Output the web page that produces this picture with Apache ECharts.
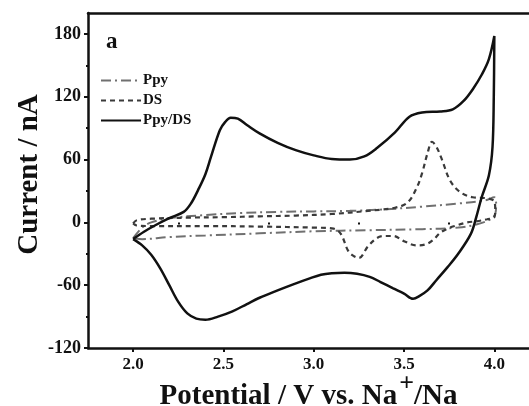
<!DOCTYPE html>
<html>
<head>
<meta charset="utf-8">
<script src="https://cdn.jsdelivr.net/npm/echarts@6/dist/echarts.min.js"></script>
<style>
  html, body { margin: 0; padding: 0; background: #fff; }
  #chart { width: 529px; height: 406px; }
</style>
</head>
<body>
<div id="chart"></div>
<script>
// Cyclic voltammograms: [potential (V vs. Na+/Na), current (nA)], traced around each loop
const ppyLoop = [
  [2.0,-15],[2.05,-5],[2.1,0],[2.2,4],[2.4,7],[2.6,9],[2.8,10],[3.0,10.5],[3.2,11],
  [3.4,12.5],[3.6,15],[3.8,18],[3.95,21],[4.0,24],[4.01,17],[4.005,8],[3.98,3],
  [3.9,-2],[3.8,-5],[3.6,-6.5],[3.3,-7.5],[3.0,-8.5],[2.7,-10.5],[2.4,-12.5],
  [2.2,-14],[2.05,-16],[2.0,-15]
];
const dsLoop = [
  [2.0,-1],[2.02,2],[2.1,3.5],[2.3,4.5],[2.5,5],[2.7,5.8],[2.9,6.5],[3.1,8],[3.3,11],
  [3.45,14],[3.52,19],[3.57,33],[3.6,47],[3.63,66],[3.655,77],[3.68,72],[3.71,60],
  [3.755,40],[3.81,29],[3.88,24],[3.96,23],[4.0,20],[4.005,12],[4.0,5],[3.96,3],
  [3.9,1],[3.85,0],[3.79,-3],[3.74,-6],[3.7,-10],[3.66,-17],[3.62,-21],[3.57,-22],
  [3.5,-18],[3.44,-13],[3.39,-13],[3.35,-15],[3.3,-23],[3.25,-34],[3.22,-32],
  [3.19,-27],[3.15,-11],[3.11,-6],[3.0,-5],[2.7,-4],[2.4,-3.5],[2.1,-3.5],[2.02,-3],[2.0,-1]
];
const ppyDsLoop = [
  [2.0,-16],[2.06,-9],[2.12,-3],[2.2,4],[2.28,10],[2.32,18],[2.36,31],[2.4,46],
  [2.43,62],[2.48,88],[2.51,96],[2.54,100],[2.58,99],[2.63,93],[2.7,85],[2.8,76],
  [2.9,69],[3.0,64],[3.1,60.5],[3.2,60],[3.28,63],[3.35,71],[3.45,86],[3.53,101],
  [3.6,105],[3.7,106],[3.77,108],[3.83,116],[3.88,127],[3.93,141],[3.97,156],[4.0,178],
  [3.997,120],[3.99,72],[3.97,45],[3.93,24],[3.9,5],[3.87,-11],[3.8,-30],[3.74,-43],
  [3.68,-55],[3.63,-65],[3.58,-71],[3.55,-73],[3.5,-68],[3.44,-63],[3.37,-57],
  [3.31,-52],[3.24,-49],[3.17,-48],[3.1,-48.5],[3.04,-50],[2.97,-54],[2.89,-59],
  [2.8,-65],[2.7,-72],[2.63,-78],[2.55,-85],[2.47,-90],[2.4,-93],[2.35,-92],
  [2.3,-87],[2.25,-76],[2.2,-60],[2.15,-44],[2.1,-31],[2.05,-22],[2.0,-16]
];

const seriesNames = ['Ppy', 'DS', 'Ppy/DS'];
const xMajorTicks = [2.0, 2.5, 3.0, 3.5, 4.0];
const xMinorTicks = [2.25, 2.75, 3.25, 3.75];
const yMajorTicks = [-120, -60, 0, 60, 120, 180];
const yMinorTicks = [-90, -30, 30, 90, 150];

const serif = '"Liberation Serif", "Times New Roman", serif';
const axisW = 2.5;
const xMin = 1.75, xMax = 4.192;

const chart = echarts.init(document.getElementById('chart'));

chart.setOption({
  animation: false,
  backgroundColor: '#fff',
  title: {
    text: 'a',
    left: 106, top: 31, padding: 0,
    textStyle: { fontFamily: serif, fontWeight: 'bold', fontSize: 23, color: '#111' }
  },
  legend: {
    orient: 'vertical',
    left: 100, top: 73, padding: 0,
    itemWidth: 40, itemHeight: 10, itemGap: 5,
    data: seriesNames,
    itemStyle: { color: 'transparent', borderWidth: 0, opacity: 0 },
    textStyle: { fontFamily: serif, fontWeight: 'bold', fontSize: 15, color: '#111', padding: [0, 0, 0, -3] }
  },
  grid: { left: 88, top: 13, bottom: 58, right: 0, outerBoundsMode: 'none' },
  xAxis: [
    {
      type: 'value', min: xMin, max: xMax, interval: 0.25,
      name: '{b|Potential / V vs. Na}{s|+}{b|/Na}',
      nameLocation: 'middle', nameGap: 23, nameMoveOverlap: false,
      nameTextStyle: {
        rich: {
          b: { fontFamily: serif, fontWeight: 'bold', fontSize: 29, color: '#111', lineHeight: 40, verticalAlign: 'bottom' },
          s: { fontFamily: serif, fontWeight: 'bold', fontSize: 26, color: '#111', lineHeight: 28, verticalAlign: 'top', padding: [0, 0, 0, 2] }
        }
      },
      axisLine: { show: true, onZero: false, lineStyle: { color: '#111', width: axisW } },
      axisTick: { show: true, inside: false, length: 4, customValues: xMajorTicks, lineStyle: { color: '#111', width: 2 } },
      axisLabel: {
        customValues: xMajorTicks, margin: 8,
        formatter: v => v.toFixed(1),
        fontFamily: serif, fontWeight: 'bold', fontSize: 17, color: '#111'
      },
      splitLine: { show: false }
    },
    {
      type: 'value', min: xMin, max: xMax, interval: 0.25, position: 'bottom',
      axisLine: { show: false },
      axisTick: { show: true, inside: false, length: 2, customValues: xMinorTicks, lineStyle: { color: '#111', width: 2 } },
      axisLabel: { show: false },
      splitLine: { show: false }
    },
    {
      type: 'value', min: xMin, max: xMax, position: 'top',
      axisLine: { show: true, onZero: false, lineStyle: { color: '#111', width: axisW } },
      axisTick: { show: false }, axisLabel: { show: false }, splitLine: { show: false }
    }
  ],
  yAxis: [
    {
      type: 'value', min: -120, max: 200, interval: 60,
      name: 'Current / nA', nameLocation: 'middle', nameGap: 44, nameRotate: 90, nameMoveOverlap: false,
      nameTextStyle: { fontFamily: serif, fontWeight: 'bold', fontSize: 29, color: '#111', padding: [0, 0, 0, 12] },
      axisLine: { show: true, onZero: false, lineStyle: { color: '#111', width: axisW } },
      axisTick: { show: true, inside: false, length: 4, customValues: yMajorTicks, lineStyle: { color: '#111', width: 2 } },
      axisLabel: {
        customValues: yMajorTicks, margin: 7,
        fontFamily: serif, fontWeight: 'bold', fontSize: 18, color: '#111'
      },
      splitLine: { show: false }
    },
    {
      type: 'value', min: -120, max: 200, interval: 60, position: 'left',
      axisLine: { show: false },
      axisTick: { show: true, inside: false, length: 2, customValues: yMinorTicks, lineStyle: { color: '#111', width: 2 } },
      axisLabel: { show: false },
      splitLine: { show: false }
    }
  ],
  series: [
    {
      name: seriesNames[0], type: 'line', data: ppyLoop, symbol: 'none', smooth: 0.35,
      lineStyle: { color: '#707070', width: 2, type: [10, 4, 2, 4] },
      itemStyle: { color: '#707070' }, z: 3
    },
    {
      name: seriesNames[1], type: 'line', data: dsLoop, symbol: 'none', smooth: 0.35,
      lineStyle: { color: '#3a3a3a', width: 2.2, type: [5, 4] },
      itemStyle: { color: '#3a3a3a' }, z: 4
    },
    {
      name: seriesNames[2], type: 'line', data: ppyDsLoop, symbol: 'none', smooth: 0.35,
      lineStyle: { color: '#111', width: 2.5 },
      itemStyle: { color: '#111' }, z: 5
    }
  ]
});
</script>
</body>
</html>
